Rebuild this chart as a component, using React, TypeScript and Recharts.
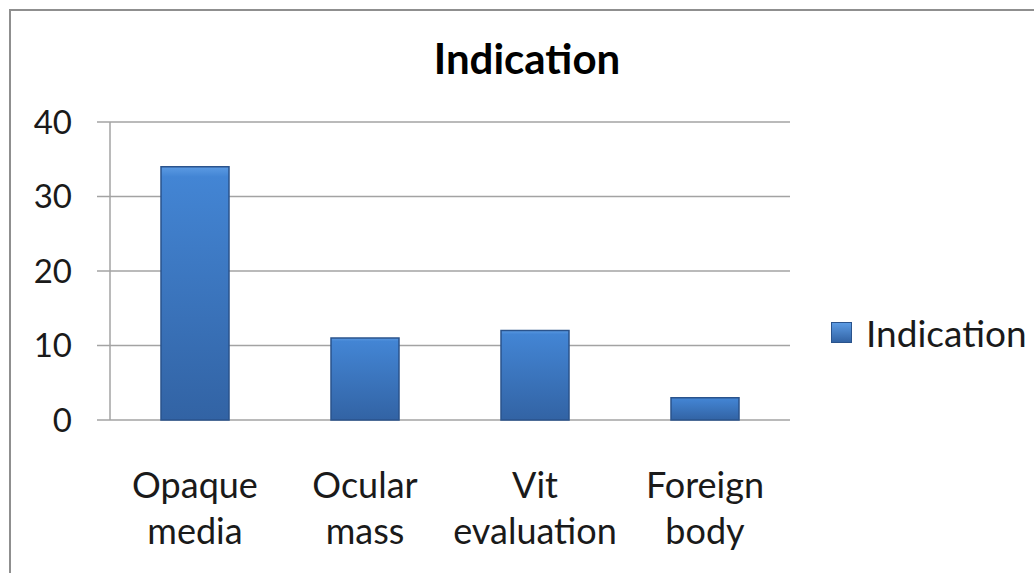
import React from 'react';
import { BarChart, Bar, XAxis, YAxis, CartesianGrid } from 'recharts';

// values
const categories = ['Opaque media', 'Ocular mass', 'Vit evaluation', 'Foreign body'];
const counts = [34, 11, 12, 3];
const yTicks = [0, 10, 20, 30, 40];
const seriesName = 'Indication';
const chartTitle = 'Indication';

const data = categories.map((name, i) => ({ name, value: counts[i] }));

const FONT = 'Lato, "Open Sans", sans-serif';
const GRID = '#a3a3a3';
const INK = '#1a1a1a';

const CategoryTick = ({ x, y, payload }: any) => {
    const words = String(payload.value).split(' ');
    return (
        <text x={x} y={y} textAnchor="middle" fill={INK} fontSize={36} fontFamily={FONT}>
            <tspan x={x} dy={78}>{words[0]}</tspan>
            <tspan x={x} dy={46}>{words.slice(1).join(' ')}</tspan>
        </text>
    );
};

export default function App() {
    return (
        <div style={{ position: 'absolute', left: 0, top: 0, width: 1034, height: 573, overflow: 'hidden', background: '#fff' }}>
            <div style={{ position: 'absolute', left: 9, top: 9, width: 1100, height: 700, border: '2px solid #8f8f8f' }} />
            <div style={{ position: 'absolute', left: 0, top: 0 }}>
                <BarChart
                    width={1034}
                    height={573}
                    data={data}
                    margin={{ top: 122, right: 244, bottom: 33, left: 0 }}
                    barCategoryGap="30%"
                >
                    <defs>
                        <linearGradient id="barGrad" x1="0" y1="0" x2="0" y2="1">
                            <stop offset="0%" stopColor="#5c9be3" />
                            <stop offset="4%" stopColor="#4385d4" />
                            <stop offset="100%" stopColor="#3263a4" />
                        </linearGradient>
                    </defs>
                    <CartesianGrid vertical={false} stroke={GRID} strokeWidth={1.5} />
                    <XAxis
                        xAxisId="bounds"
                        type="number"
                        domain={[0, categories.length]}
                        ticks={[0, 1, 2, 3, 4]}
                        allowDataOverflow
                        tick={false}
                        tickSize={13}
                        height={0}
                        stroke={GRID}
                        strokeWidth={1.5}
                    />
                    <XAxis
                        dataKey="name"
                        height={120}
                        axisLine={false}
                        tickLine={false}
                        tickSize={0}
                        tickMargin={0}
                        interval={0}
                        tick={<CategoryTick />}
                    />
                    <YAxis
                        width={110}
                        domain={[0, 40]}
                        ticks={yTicks}
                        tickSize={13}
                        tickMargin={25}
                        stroke={GRID}
                        strokeWidth={1.5}
                        tick={{ fill: INK, fontSize: 33, fontFamily: FONT }}
                    />
                    <Bar dataKey="value" name={seriesName} fill="url(#barGrad)" stroke="#2a538c" strokeWidth={1.5} isAnimationActive={false} />
                </BarChart>
            </div>
            <div style={{ position: 'absolute', left: 0, width: 1054, top: 28, textAlign: 'center', fontFamily: FONT, fontWeight: 700, fontSize: 42, lineHeight: '60px', color: '#000' }}>
                {chartTitle}
            </div>
            <div style={{ position: 'absolute', left: 831, top: 310, display: 'flex', alignItems: 'center', fontFamily: FONT, fontSize: 37, color: INK }}>
                <span style={{ display: 'inline-block', width: 19, height: 19, marginRight: 14, background: 'linear-gradient(#5c9be3, #3263a4)', border: '1.5px solid #2a538c' }} />
                {seriesName}
            </div>
        </div>
    );
}
